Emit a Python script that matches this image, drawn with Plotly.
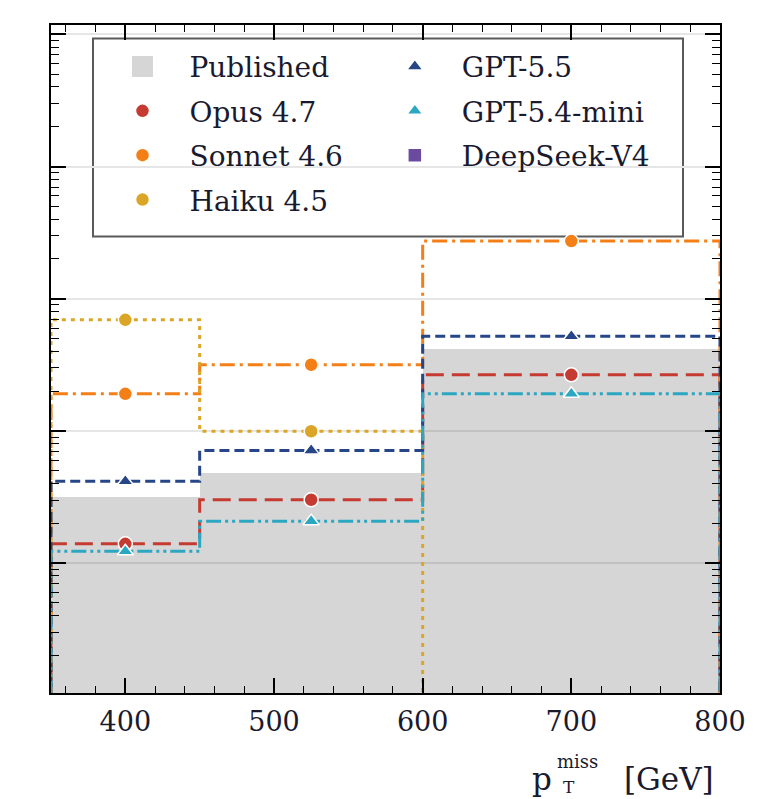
import plotly.graph_objects as go

# ---------------- data ----------------
BIN_EDGES = [350, 450, 600, 800]
BIN_CENTERS = [400, 525, 700]

PUBLISHED = [31.6, 48.0, 419.0]
OPUS_47 = [14.0, 30.2, 266.0]
SONNET_46 = [191.0, 317.0, 2730.0]
HAIKU_45 = [693.0, 99.6, 0.0]
GPT_55 = [41.7, 71.3, 521.0]
GPT_54_MINI = [12.3, 20.8, 191.0]
DEEPSEEK_V4 = [None, None, None]

X_TICKS = [400, 500, 600, 700, 800]

FONT = "DejaVu Serif"
TXT = "#1a1a2e"
FLOOR = 1e-3  # stand-in for zero on the log axis (drawn below the axis range)

series = [
    # name, values, colour, dash, symbol, legend
    ("Opus 4.7", OPUS_47, "#c63b31", "18px,8px", "circle", "legend"),
    ("Sonnet 4.6", SONNET_46, "#f57f17", "15px,5px,3px,5px", "circle", "legend"),
    ("Haiku 4.5", HAIKU_45, "#dba628", "4px,5px", "circle", "legend"),
    ("GPT-5.5", GPT_55, "#274687", "10px,5px", "triangle-up", "legend2"),
    ("GPT-5.4-mini", GPT_54_MINI, "#2ca7c2", "15px,4px,3px,4px,3px,4px", "triangle-up", "legend2"),
    ("DeepSeek-V4", DEEPSEEK_V4, "#6a4ba0", "solid", "square", "legend2"),
]

fig = go.Figure()

# published histogram (translucent so the grid shows through as in the reference)
widths = [BIN_EDGES[i + 1] - BIN_EDGES[i] for i in range(len(PUBLISHED))]
fig.add_trace(go.Bar(
    x=BIN_CENTERS, y=PUBLISHED, width=widths,
    marker=dict(color="rgba(0,0,0,0.16)", line=dict(width=0)),
    showlegend=False, legendgroup="pub", name="Published",
))
# legend proxy for the published histogram
fig.add_trace(go.Scatter(
    x=[None], y=[None], mode="markers", name="Published",
    marker=dict(symbol="square", size=16, color="#d6d6d6",
                line=dict(color="#d6d6d6", width=5)),
    legend="legend", legendgroup="pub",
))

for name, vals, col, dash, sym, leg in series:
    if not all(v is None for v in vals):
        yv = [FLOOR if (v is None or v <= 0) else v for v in vals]
        step_x = [BIN_EDGES[0]] + BIN_EDGES[:-1] + [BIN_EDGES[-1]]
        step_y = [FLOOR] + yv + [FLOOR]
        fig.add_trace(go.Scatter(
            x=step_x, y=step_y, mode="lines", line_shape="hv",
            line=dict(color=col, width=3, dash=dash),
            showlegend=False, legendgroup=name, name=name,
        ))
    mx = [c for c, v in zip(BIN_CENTERS, vals) if v is not None and v > 0]
    my = [v for v in vals if v is not None and v > 0]
    if not mx:
        mx, my = [None], [None]
    fig.add_trace(go.Scatter(
        x=mx, y=my, mode="markers", name=name,
        marker=dict(symbol=sym, size=14, color=col, line=dict(color="white", width=1.5)),
        legend=leg, legendgroup=name,
    ))

# legend frame
fig.add_shape(type="rect", xref="paper", yref="paper",
              x0=0.0628, x1=0.9447, y0=0.6834, y1=0.9798,
              line=dict(color="#5a5a5a", width=2), fillcolor="white", layer="between")

legend_common = dict(
    bgcolor="rgba(0,0,0,0)", borderwidth=0,
    font=dict(family=FONT, size=28, color=TXT),
    itemsizing="trace", itemwidth=84, tracegroupgap=5,
    xanchor="left", yanchor="top", itemclick=False, itemdoubleclick=False,
)

fig.update_layout(
    width=766, height=791,
    margin=dict(l=43, r=54, t=17, b=106),
    paper_bgcolor="white", plot_bgcolor="white",
    barmode="overlay", bargap=0,
    font=dict(family=FONT, size=27, color=TXT),
    legend=dict(x=0.0665, y=0.975, **legend_common),
    legend2=dict(x=0.4736, y=0.975, **legend_common),
    xaxis=dict(
        range=[350, 800], tickvals=X_TICKS, ticktext=[str(t) for t in X_TICKS],
        ticks="inside", ticklen=15, tickwidth=1.5, tickcolor="black",
        minor=dict(dtick=20, tick0=0, ticks="inside", ticklen=7, tickwidth=1.2, tickcolor="black", showgrid=False),
        showline=True, linecolor="black", linewidth=2, mirror="allticks",
        showgrid=False, zeroline=False, ticklabelstandoff=4,
        tickfont=dict(family=FONT, size=27, color=TXT),
    ),
    yaxis=dict(
        type="log", range=[0.018, 5.071], dtick=1,
        ticks="inside", ticklen=15, tickwidth=1.5, tickcolor="black",
        minor=dict(dtick="D1", ticks="inside", ticklen=8, tickwidth=1.2, tickcolor="black", showgrid=False),
        showline=True, linecolor="black", linewidth=2, mirror="allticks",
        showgrid=True, gridcolor="#e6e6e6", gridwidth=2,
        showticklabels=False, zeroline=False,
    ),
)

# x-axis title: p_T^miss [GeV] with the sub/superscript stacked
title_parts = [
    ("p", 0.716, -0.128, "left", 31),
    ("T", 0.7623, -0.140, "left", 17),
    ("miss", 0.7534, -0.103, "left", 18),
    ("[GeV]", 0.994, -0.128, "right", 31),
]
for txt, xp, yp, xa, fs in title_parts:
    fig.add_annotation(
        xref="paper", yref="paper", x=xp, y=yp, xanchor=xa, yanchor="middle",
        text=txt, showarrow=False, font=dict(family=FONT, size=fs, color=TXT),
    )

fig.write_html("out.html")
